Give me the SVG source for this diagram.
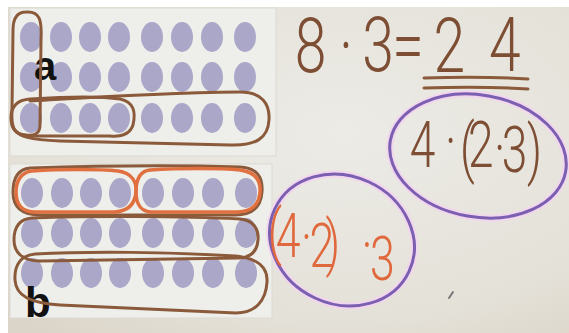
<svg xmlns="http://www.w3.org/2000/svg" width="569" height="333" viewBox="0 0 569 333">
<defs>
<radialGradient id="bg" cx="0.6" cy="0.4" r="0.8">
<stop offset="0" stop-color="#ecebe6"/>
<stop offset="0.7" stop-color="#e4e1d8"/>
<stop offset="1" stop-color="#dbd4c8"/>
</radialGradient>
<g id="dotrow">
<ellipse cx="0" cy="0" rx="11" ry="15"/>
<ellipse cx="30" cy="0" rx="11" ry="15"/>
<ellipse cx="59" cy="0" rx="11" ry="15"/>
<ellipse cx="88" cy="0" rx="11" ry="15"/>
<ellipse cx="121" cy="0" rx="11" ry="15"/>
<ellipse cx="151" cy="0" rx="11" ry="15"/>
<ellipse cx="181" cy="0" rx="11" ry="15"/>
<ellipse cx="214" cy="0" rx="11" ry="15"/>
</g>
</defs>
<style>
.panel{fill:#eeeeeb;stroke:#dcdad2;stroke-width:1}
.dots{fill:#aaa7c9}
.brown{fill:none;stroke:#8a5a3a;stroke-width:3;stroke-linecap:round;stroke-linejoin:round}
.orange{fill:none;stroke:#e0703f;stroke-width:3.5;stroke-linecap:round}
.purple{fill:none;stroke:#7b5fb0;stroke-width:3}
.glow{fill:none;stroke:#f2d6ee;stroke-width:7}
.hand{font-family:Roboto,"Open Sans","Liberation Sans",sans-serif;font-weight:300}
.lbl{font-family:"Liberation Sans",Arial,sans-serif;font-weight:bold;fill:#111}
</style>
<rect width="569" height="333" fill="url(#bg)"/>
<g id="panel-a">
<rect class="panel" x="10" y="8" width="266" height="148"/>
<g class="dots">
<use href="#dotrow" x="31" y="37"/>
<use href="#dotrow" x="31" y="77"/>
<use href="#dotrow" x="31" y="118"/>
</g>
<text class="lbl" x="34" y="80" font-size="40">a</text>
</g>
<g id="panel-b">
<rect class="panel" x="10" y="164" width="262" height="154"/>
<g class="dots">
<use href="#dotrow" x="32" y="193"/>
<use href="#dotrow" x="32" y="233"/>
<use href="#dotrow" x="32" y="273"/>
</g>
<text class="lbl" x="25" y="317" font-size="42">b</text>
</g>
<g id="loops">
<path class="brown" d="M26,12 C40,11 42,20 41,40 L40,125 C40,134 34,136 26,135 C14,134 11,128 12,110 L13,30 C13,18 17,12 26,12 Z"/>
<path class="brown" d="M30,99 C60,97 100,96 120,99 C134,102 136,112 133,125 C130,134 122,137 110,136 L30,136 C16,136 11,128 11,118 C11,106 17,100 30,99 Z"/>
<path class="brown" d="M30,101 C80,98 150,93 240,92 C262,92 270,104 269,120 C268,138 256,146 230,145 L60,141 C35,140 14,138 12,124"/>
<path class="brown" d="M30,168 C90,166 180,165 240,167 C258,168 263,178 262,192 C261,208 252,215 235,215 L40,215 C20,215 13,206 13,192 C13,176 20,169 30,168 Z" stroke-width="2.5"/>
<path class="orange" d="M32,171 C60,169 100,169 118,171 C132,173 137,182 136,192 C135,204 128,211 115,212 L35,212 C22,212 16,204 16,192 C16,180 22,172 32,171 Z"/>
<path class="orange" d="M150,170 C180,168 220,168 240,170 C255,172 261,180 260,192 C259,205 252,211 238,212 L152,212 C141,212 136,204 136,192 C136,180 140,171 150,170 Z"/>
<path class="brown" d="M32,218 C90,216 180,216 240,219 C254,220 259,230 258,240 C257,252 250,258 238,258 L40,261 C22,261 14,252 14,240 C14,227 20,219 32,218 Z"/>
<path class="brown" d="M35,254 C90,251 170,252 235,256 C258,258 268,268 267,282 C266,300 256,313 236,313 L60,305 C30,303 16,296 15,280 C14,264 22,255 35,254 Z"/>
</g>
<g id="equation">
<text class="hand" fill="#7d4e34" font-size="76" transform="scale(0.75 1)" x="393 452 483 523 578 652" y="72 72 71 72 72 71">8·3=24</text>
<path class="brown" d="M424,78 C460,77 495,77 528,79 M424,88 C460,87 495,87 528,89" stroke-width="3.5"/>
</g>
<g id="expr-1">
<ellipse class="glow" cx="478" cy="156" rx="89" ry="61" transform="rotate(10 478 156)"/>
<ellipse class="purple" cx="478" cy="156" rx="89" ry="61" transform="rotate(10 478 156)"/>
<text class="hand" fill="#7d4e34" font-size="64" transform="scale(0.72 1)" x="569 618 639 650 686 697 732" y="167 163 170 167 170 172 172">4·(2·3)</text>
</g>
<g id="expr-2">
<ellipse class="glow" cx="342" cy="240" rx="74" ry="64" transform="rotate(25 342 240)"/>
<ellipse class="purple" cx="342" cy="240" rx="74" ry="64" transform="rotate(25 342 240)"/>
<text class="hand" fill="#e0683d" font-size="62" transform="scale(0.72 1)" x="372 383 418 430 452 502 514" y="253 257 258 267 264 266 280">(4·2)·3</text>
</g>
<path d="M449,298 L453,292" stroke="#777" stroke-width="2" stroke-linecap="round"/>
<g id="frame" fill="#ffffff">
<rect x="0" y="0" width="569" height="7"/>
<rect x="0" y="0" width="8" height="333"/>
</g>
</svg>
